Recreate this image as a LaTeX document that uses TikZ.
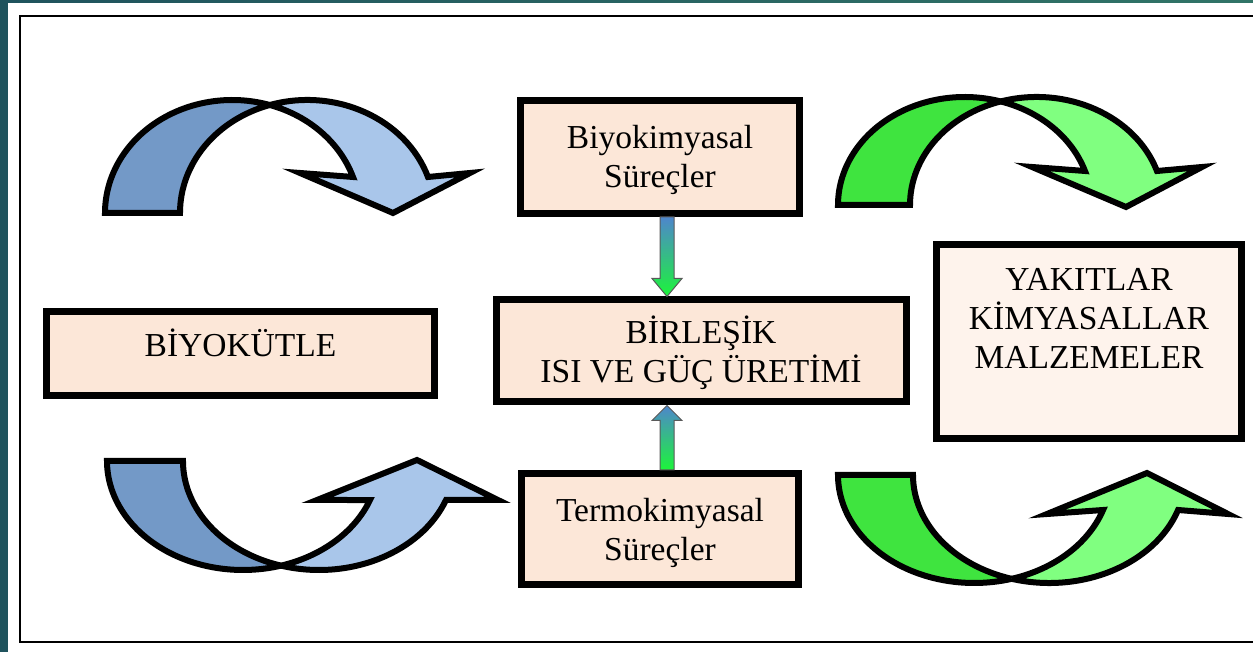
\documentclass[tikz,border=0pt]{standalone}
\usepackage{fontspec}
\setmainfont{Liberation Serif}
\usepackage{xcolor}
\usetikzlibrary{calc}
\definecolor{peach}{HTML}{FCE7D8}
\definecolor{palepeach}{HTML}{FEF3EC}
\definecolor{bluedark}{HTML}{7399C7}
\definecolor{bluelight}{HTML}{A9C6EA}
\definecolor{greendark}{HTML}{3FE43F}
\definecolor{greenlight}{HTML}{80FF80}
\definecolor{flowblue}{HTML}{4E86CC}
\definecolor{flowgreen}{HTML}{1CF53A}
\definecolor{tealleft}{HTML}{1F535D}
\definecolor{tealright}{HTML}{317467}
\tikzset{
	proc/.style={draw, line width=7pt, fill=peach, align=center, inner sep=0pt,
		font=\fontsize{33.5}{39}\selectfont},
	proc size/.style 2 args={minimum width=#1, minimum height=#2},
	ribbon/.style={draw, line width=6pt, line cap=butt, miter limit=10, fill=#1},
	flow/.style={draw=black!65, line width=1pt, top color=flowblue, bottom color=flowgreen},
	frame/.style={draw, line width=2pt}
}

\begin{document}
\begin{tikzpicture}[x=1pt, y=1pt]
   \path[use as bounding box, clip] (0,0) rectangle (1253,652);
   \shade[left color=tealleft, right color=tealright] (0,0) rectangle (1253,652);
   \fill[white] (8,0) rectangle (1253,649);
   \draw[frame] (20,10) rectangle (1270,636);

   \node[proc, proc size={279pt}{113pt}, text depth=1pt] (bio) at (660,495) {Biyokimyasal\\Süreçler};
   \node[proc, proc size={410pt}{102pt}, text depth=4pt] (chp) at (701,301) {BİRLEŞİK\\ISI VE GÜÇ ÜRETİMİ};
   \node[proc, proc size={277pt}{111pt}, text depth=0pt] (termo) at (660,123) {Termokimyasal\\Süreçler};
   \node[proc, proc size={388pt}{84pt}, text height=26pt, text depth=19pt] (mass) at (240.5,298.5) {BİYOKÜTLE};
   \node[proc, proc size={305pt}{194pt}, fill=palepeach, text depth=47pt] (prod) at (1089,310.5)
      {YAKITLAR\\KİMYASALLAR\\MALZEMELER};

   \path[flow] let \p1=(bio.south), \p2=(chp.north) in
      (\x1,\y1) -- (\x1+14,\y1) -- (\x1+14,\y2+18) -- (\x1+22,\y2+18) -- (\x1+7,\y2)
      -- (\x1-8,\y2+18) -- (\x1,\y2+18) -- cycle;
   \path[flow] let \p1=(termo.north), \p2=(chp.south) in
      (\x1,\y1) -- (\x1+14,\y1) -- (\x1+14,\y2-15) -- (\x1+22,\y2-15) -- (\x1+7,\y2)
      -- (\x1-8,\y2-15) -- (\x1,\y2-15) -- cycle;

   % biomass side
   \path[ribbon=bluedark] (269.8,547.0) arc[start angle=107.13, end angle=180, x radius=127.3, y radius=113]
      -- (105,439) arc[start angle=180, end angle=72.87, x radius=127.3, y radius=113];
   \path[ribbon=bluelight] (269.8,547.0) arc[start angle=72.87, end angle=18.58, x radius=127.3, y radius=113]
      -- (300,479) -- (393,439) -- (470,479) -- (427.97,475)
      arc[start angle=18.58, end angle=107.13, x radius=127.3, y radius=113];
   \path[ribbon=bluedark] (281,86.34) arc[start angle=-106.22, end angle=-180, x radius=136, y radius=109]
      -- (107,191) arc[start angle=180, end angle=286.22, x radius=136, y radius=109];
   \path[ribbon=bluelight] (281,86.34) arc[start angle=-73.78, end angle=-20.97, x radius=136, y radius=109]
      -- (317,152) -- (417,192) -- (498,152) -- (445.99,152)
      arc[start angle=-20.97, end angle=-106.22, x radius=136, y radius=109];

   % products side
   \path[ribbon=greendark] (1000.7,550.55) arc[start angle=106.51, end angle=180, x radius=126.7, y radius=108]
      -- (838,447) arc[start angle=180, end angle=73.49, x radius=126.7, y radius=108];
   \path[ribbon=greenlight] (1000.7,550.55) arc[start angle=73.49, end angle=18.35, x radius=126.7, y radius=108]
      -- (1032,485) -- (1126,445) -- (1202,485) -- (1156.96,481)
      arc[start angle=18.35, end angle=106.51, x radius=126.7, y radius=108];
   \path[ribbon=greendark] (1011.7,73.17) arc[start angle=-105.98, end angle=-180, x radius=136.2, y radius=108]
      -- (838,177) arc[start angle=180, end angle=285.98, x radius=136.2, y radius=108];
   \path[ribbon=greenlight] (1011.7,73.17) arc[start angle=-74.02, end angle=-18.91, x radius=136.2, y radius=108]
      -- (1047,138) -- (1147,179) -- (1228,138) -- (1178.05,142)
      arc[start angle=-18.91, end angle=-105.98, x radius=136.2, y radius=108];
\end{tikzpicture}
\end{document}
